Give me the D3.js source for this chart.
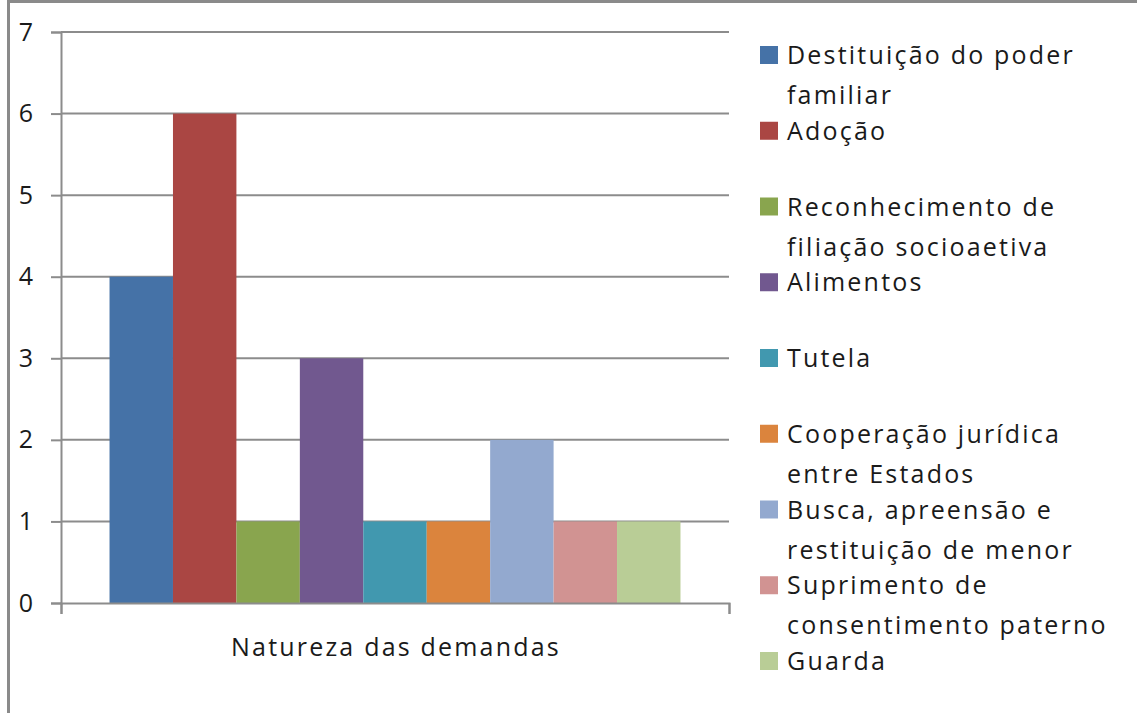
<!DOCTYPE html>
<html>
<head>
<meta charset="utf-8">
<script src="https://cdn.jsdelivr.net/npm/d3@7"></script>
<style>
  html, body { margin: 0; padding: 0; background: #fff; }
  svg text { font-family: "Open Sans", "DejaVu Sans", sans-serif; fill: #1a1a1a; }
</style>
</head>
<body>
<svg id="chart" width="1137" height="713"></svg>
<script>
// ---- data ----
const category = ["Natureza das demandas"];
const seriesNames = [
  "Destituição do poder familiar",
  "Adoção",
  "Reconhecimento de filiação socioaetiva",
  "Alimentos",
  "Tutela",
  "Cooperação jurídica entre Estados",
  "Busca, apreensão e restituição de menor",
  "Suprimento de consentimento paterno",
  "Guarda"
];
const legendLines = [
  ["Destituição do poder", "familiar"],
  ["Adoção"],
  ["Reconhecimento de", "filiação socioaetiva"],
  ["Alimentos"],
  ["Tutela"],
  ["Cooperação jurídica", "entre Estados"],
  ["Busca, apreensão e", "restituição de menor"],
  ["Suprimento de", "consentimento paterno"],
  ["Guarda"]
];
const seriesValues = [4, 6, 1, 3, 1, 1, 2, 1, 1];
const seriesColors = ["#4572A7", "#AA4643", "#89A54E", "#71588F", "#4198AF", "#DB843D", "#93A9CF", "#D19392", "#B9CD96"];
const yTicks = [0, 1, 2, 3, 4, 5, 6, 7];

// ---- layout ----
const svg = d3.select("#chart");
const plot = { left: 61, right: 729, top: 32, bottom: 603 };
const fontSize = 25;
const spacing = "2.2px";

// outer frame (only top and left visible in reference)
svg.append("line").attr("x1", 8.5).attr("x2", 1137).attr("y1", 1.5).attr("y2", 1.5)
  .attr("stroke", "#8a8a8a").attr("stroke-width", 3);
svg.append("line").attr("x1", 8.5).attr("x2", 8.5).attr("y1", 0).attr("y2", 713)
  .attr("stroke", "#8a8a8a").attr("stroke-width", 3);

const y = d3.scaleLinear().domain([0, 7]).range([plot.bottom, plot.top]);
const xCat = d3.scaleBand().domain(category).range([plot.left, plot.right])
  .paddingInner(0).paddingOuter(0.085);
const xSer = d3.scaleBand().domain(seriesNames).range([0, xCat.bandwidth()]).padding(0);

// gridlines
svg.append("g").selectAll("line").data(yTicks.filter(d => d > 0)).join("line")
  .attr("x1", plot.left).attr("x2", plot.right)
  .attr("y1", d => y(d)).attr("y2", d => y(d))
  .attr("stroke", "#8c8c8c").attr("stroke-width", 2);

// bars
svg.append("g").selectAll("rect").data(seriesNames).join("rect")
  .attr("x", d => xCat(category[0]) + xSer(d))
  .attr("width", xSer.bandwidth())
  .attr("y", (d, i) => y(seriesValues[i]))
  .attr("height", (d, i) => y(0) - y(seriesValues[i]))
  .attr("fill", (d, i) => seriesColors[i]);

// y axis
const yAxis = d3.axisLeft(y).tickValues(yTicks).tickSize(10).tickPadding(18).tickFormat(d3.format("d"));
const gy = svg.append("g").attr("transform", `translate(${plot.left},0)`).call(yAxis);
gy.select(".domain").attr("stroke", "#8c8c8c").attr("stroke-width", 2);
gy.selectAll(".tick line").attr("stroke", "#8c8c8c").attr("stroke-width", 2);
gy.selectAll(".tick text").style("font-size", fontSize + "px")
  .style("font-family", '"Open Sans", "DejaVu Sans", sans-serif').attr("fill", "#1a1a1a");

// x axis (category boundaries as ticks)
const xAxisScale = d3.scaleLinear().domain([0, 1]).range([plot.left, plot.right]);
const xAxis = d3.axisBottom(xAxisScale).tickValues([0, 1]).tickSize(11).tickFormat("");
const gx = svg.append("g").attr("transform", `translate(0,${plot.bottom})`).call(xAxis);
gx.select(".domain").attr("stroke", "#8c8c8c").attr("stroke-width", 2);
gx.selectAll(".tick line").attr("stroke", "#8c8c8c").attr("stroke-width", 2);

// category label
svg.append("text")
  .attr("x", xCat(category[0]) + xCat.bandwidth() / 2 + 1)
  .attr("y", 656)
  .attr("text-anchor", "middle")
  .style("font-size", fontSize + "px")
  .style("letter-spacing", spacing)
  .text(category[0]);

// legend
const legendX = 760, firstBaseline = 64, slot = 75.75, lineGap = 40, sq = 18;
const lg = svg.append("g").selectAll("g").data(seriesNames).join("g")
  .attr("transform", (d, i) => `translate(${legendX},${firstBaseline + i * slot})`);
lg.append("rect").attr("x", 0).attr("y", -sq).attr("width", sq).attr("height", sq)
  .attr("fill", (d, i) => seriesColors[i]);
lg.append("text").attr("x", 27).attr("y", 0).style("font-size", fontSize + "px")
  .style("letter-spacing", spacing)
  .selectAll("tspan").data((d, i) => legendLines[i]).join("tspan")
  .attr("x", 27).attr("dy", (d, j) => j === 0 ? 0 : lineGap)
  .text(d => d);
</script>
</body>
</html>
